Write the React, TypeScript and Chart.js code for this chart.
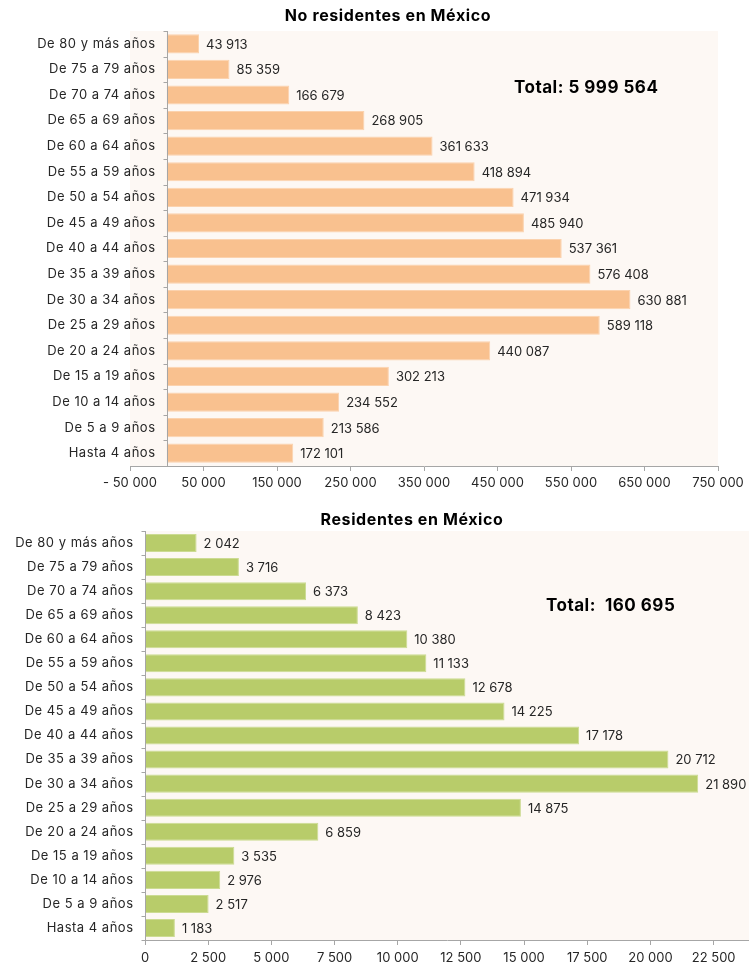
import React, { useEffect, useRef } from "react";
import { Chart, registerables } from "chart.js";

Chart.register(...registerables);

const categories = [
  "De 80 y más años",
  "De 75 a 79 años",
  "De 70 a 74 años",
  "De 65 a 69 años",
  "De 60 a 64 años",
  "De 55 a 59 años",
  "De 50 a 54 años",
  "De 45 a 49 años",
  "De 40 a 44 años",
  "De 35 a 39 años",
  "De 30 a 34 años",
  "De 25 a 29 años",
  "De 20 a 24 años",
  "De 15 a 19 años",
  "De 10 a 14 años",
  "De 5 a 9 años",
  "Hasta 4 años",
];

const noResidentes = [
  43913, 85359, 166679, 268905, 361633, 418894, 471934, 485940, 537361, 576408,
  630881, 589118, 440087, 302213, 234552, 213586, 172101,
];

const residentes = [
  2042, 3716, 6373, 8423, 10380, 11133, 12678, 14225, 17178, 20712, 21890,
  14875, 6859, 3535, 2976, 2517, 1183,
];

const ticksTop = [-50000, 50000, 150000, 250000, 350000, 450000, 550000, 650000, 750000];
const ticksBottom = [0, 2500, 5000, 7500, 10000, 12500, 15000, 17500, 20000, 22500];

const titleTop = "No residentes en México";
const titleBottom = "Residentes en México";
const totalTop = "Total: 5 999 564";
const totalBottom = "Total:  160 695";

const FONT = "Inter, 'Open Sans', sans-serif";
const TEXT = "#262626";
const AXIS = "#A6A6A6";
const PLOT_BG = "#FDF8F4";

function fmt(n: number): string {
  const s = Math.round(Math.abs(n)).toString().replace(/\B(?=(\d{3})+(?!\d))/g, " ");
  return n < 0 ? "- " + s : s;
}

type Cfg = {
  title: string;
  titleX: number;
  titleY: number;
  total: string;
  totalX: number;
  totalY: number;
};

function makePlugin(cfg: Cfg) {
  return {
    id: "customDecor",
    beforeDraw(chart: any) {
      const { ctx, chartArea: a } = chart;
      ctx.save();
      ctx.fillStyle = PLOT_BG;
      ctx.fillRect(a.left, a.top, a.right - a.left, a.bottom - a.top);
      ctx.restore();
    },
    afterDraw(chart: any) {
      const { ctx, chartArea: a } = chart;
      const xs = chart.scales.x;
      const ys = chart.scales.y;
      const x0 = Math.round(xs.getPixelForValue(0)) + 0.5;
      ctx.save();
      // vertical category axis at x = 0
      ctx.strokeStyle = AXIS;
      ctx.lineWidth = 1;
      ctx.beginPath();
      ctx.moveTo(x0, a.top);
      ctx.lineTo(x0, a.bottom);
      const n = categories.length;
      for (let i = 0; i <= n; i++) {
        const y = Math.round(ys.getPixelForValue(i - 0.5)) + 0.5;
        ctx.moveTo(x0 - 4, y);
        ctx.lineTo(x0, y);
      }
      ctx.stroke();

      // category labels
      ctx.fillStyle = TEXT;
      ctx.font = `13px ${FONT}`;
      (ctx as any).letterSpacing = "0.5px";
      ctx.textAlign = "right";
      ctx.textBaseline = "middle";
      categories.forEach((c, i) => {
        ctx.fillText(c, x0 - 12, ys.getPixelForValue(i));
      });

      // value labels
      (ctx as any).letterSpacing = "0px";
      ctx.textAlign = "left";
      const ds = chart.data.datasets[0].data as number[];
      ds.forEach((v, i) => {
        ctx.fillText(fmt(v), xs.getPixelForValue(v) + 7, ys.getPixelForValue(i) + 1);
      });

      // title
      ctx.font = `bold 16px ${FONT}`;
      (ctx as any).letterSpacing = "0.6px";
      ctx.textAlign = "center";
      ctx.fillStyle = "#000";
      ctx.fillText(cfg.title, cfg.titleX, cfg.titleY);

      // total
      ctx.font = `bold 17px ${FONT}`;
      (ctx as any).letterSpacing = "0.5px";
      ctx.textAlign = "left";
      ctx.fillText(cfg.total, cfg.totalX, cfg.totalY);
      (ctx as any).letterSpacing = "0px";
      ctx.restore();
    },
  };
}

function BarChart(props: {
  width: number;
  height: number;
  values: number[];
  color: string;
  border: string;
  min: number;
  max: number;
  ticks: number[];
  padding: { left: number; right: number; top: number; bottom: number };
  axisHeight: number;
  tickPadding: number;
  cfg: Cfg;
}) {
  const ref = useRef<HTMLCanvasElement | null>(null);
  useEffect(() => {
    if (!ref.current) return;
    const chart = new Chart(ref.current, {
      type: "bar",
      data: {
        labels: categories,
        datasets: [
          {
            data: props.values,
            backgroundColor: props.color,
            borderColor: props.border,
            borderWidth: 1,
            barPercentage: 0.75,
            categoryPercentage: 1,
          },
        ],
      },
      options: {
        indexAxis: "y",
        responsive: false,
        animation: false,
        devicePixelRatio: 1,
        layout: { padding: props.padding },
        plugins: {
          legend: { display: false },
          tooltip: { enabled: false },
          title: { display: false },
        },
        scales: {
          y: { display: false },
          x: {
            min: props.min,
            max: props.max,
            afterBuildTicks: (s: any) => {
              s.ticks = props.ticks.map((v) => ({ value: v }));
            },
            afterFit: (s: any) => {
              s.height = props.axisHeight;
            },
            border: { display: true, color: AXIS, width: 1 },
            grid: {
              display: true,
              drawOnChartArea: false,
              drawTicks: true,
              tickLength: 5,
              color: AXIS,
            },
            ticks: {
              autoSkip: false,
              maxRotation: 0,
              minRotation: 0,
              padding: props.tickPadding,
              color: TEXT,
              font: { family: FONT, size: 13 },
              callback: (v: any) => fmt(Number(v)),
            },
          },
        },
      },
      plugins: [makePlugin(props.cfg)],
    } as any);
    return () => chart.destroy();
  }, []);
  return (
    <canvas
      ref={ref}
      width={props.width}
      height={props.height}
      style={{ display: "block", width: props.width, height: props.height }}
    />
  );
}

export default function App() {
  return (
    <div
      style={{
        position: "fixed",
        left: 0,
        top: 0,
        width: 749,
        height: 964,
        background: "#fff",
        overflow: "hidden",
      }}
    >
      <BarChart
        width={749}
        height={500}
        values={noResidentes}
        color="#F9C18F"
        border="#FBD2AE"
        min={-50000}
        max={750000}
        ticks={ticksTop}
        padding={{ left: 130, right: 31, top: 31, bottom: 4 }}
        axisHeight={30}
        tickPadding={4}
        cfg={{
          title: titleTop,
          titleX: 388,
          titleY: 16,
          total: totalTop,
          totalX: 514,
          totalY: 88,
        }}
      />
      <BarChart
        width={749}
        height={464}
        values={residentes}
        color="#B8CC6A"
        border="#CCDB92"
        min={0}
        max={23900}
        ticks={ticksBottom}
        padding={{ left: 145, right: 0, top: 31, bottom: 0 }}
        axisHeight={24}
        tickPadding={5}
        cfg={{
          title: titleBottom,
          titleX: 412,
          titleY: 20,
          total: totalBottom,
          totalX: 546,
          totalY: 106,
        }}
      />
    </div>
  );
}
